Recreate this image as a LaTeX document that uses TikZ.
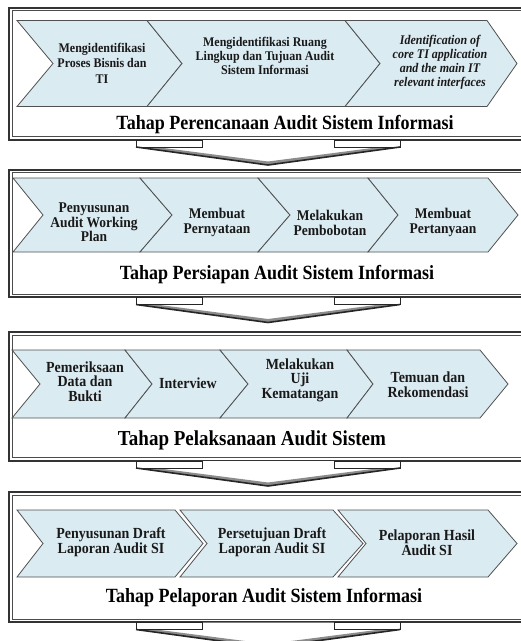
\documentclass[tikz,border=0pt]{standalone}
\usepackage{fontspec}
\setmainfont{Liberation Serif}
\definecolor{chevfill}{RGB}{219,235,242}
\definecolor{chevline}{RGB}{80,80,80}
\tikzset{
  chevshape/.style={fill=chevfill, draw=chevline, line width=0.8pt, line join=miter},
  frameout/.style={draw=black!80, line width=2pt},
  framein/.style={draw=black!70, line width=0.6pt},
  lbl/.style 2 args={align=center, inner sep=0pt, text=black!90, yscale=1.1, transform shape, font=\bfseries\fontsize{#1}{#2}\selectfont},
  ilbl/.style 2 args={align=center, inner sep=0pt, text=black!90, yscale=1.1, transform shape, font=\bfseries\itshape\fontsize{#1}{#2}\selectfont},
  ttl/.style={inner sep=0pt, yscale=1.12, transform shape, font=\bfseries\fontsize{#1}{22}\selectfont},
  arrline/.style={draw=black!85, line width=0.8pt},
  arrdiag/.style={draw=black!85, line width=1.6pt, line join=miter},
  arrshade/.style={fill=black!45},
}
\newcommand\chevpath[6]{\path[chevshape] (#1,#5) -- (#3,#5) -- (#4,{(#5+#6)/2}) -- (#3,#6) -- (#1,#6) -- (#2,{(#5+#6)/2}) -- cycle;}
\newcommand\panelframe[2]{%
  \draw[frameout] (9,#1) rectangle (560,#2);
  \draw[framein] (12.7,{#1+3.2}) rectangle (560,{#2-3.2});}
\newcommand\downarr[1]{%
  \fill[white] (136,#1) -- (400,#1) -- (400,{#1+7}) -- (268,{#1+25}) -- (136,{#1+7}) -- cycle;
  \fill[arrshade] (136,{#1+7}) -- (268,{#1+25}) -- (400,{#1+7}) -- (380,{#1+7}) -- (268,{#1+21.5}) -- (156,{#1+7}) -- cycle;
  \draw[arrline] (202,{#1+7}) -- (202,#1) -- (136,#1) -- (136,{#1+7}) -- cycle;
  \draw[arrline] (334,{#1+7}) -- (334,#1) -- (400,#1) -- (400,{#1+7}) -- cycle;
  \draw[arrdiag] (136,{#1+7}) -- (268,{#1+25}) -- (400,{#1+7});}
\begin{document}
\begin{tikzpicture}[x=1pt,y=-1pt]
\useasboundingbox (0,0) rectangle (521,641);
\clip (0,0) rectangle (521,641);

% ---------- Panel 1
\panelframe{7.5}{139.5}
\chevpath{17}{53}{147}{182}{20.5}{106.5}
\chevpath{147}{182}{345}{380}{20.5}{106.5}
\chevpath{345}{380}{487}{517}{20.5}{106.5}
\node[lbl={12}{14}] (p1a) at (102,63) {Mengidentifikasi\\Proses  Bisnis dan\\TI};
\node[lbl={12}{13}] (p1b) at (265,56) {Mengidentifikasi Ruang\\Lingkup dan Tujuan Audit\\Sistem  Informasi};
\node[ilbl={12}{12.8}] (p1c) at (440,62) {Identification of\\core  TI application\\and the main IT\\relevant interfaces};
\node[ttl=18] (t1) at (285,125) {Tahap Perencanaan Audit Sistem Informasi};
\downarr{140}

% ---------- Panel 2
\panelframe{169.5}{297}
\chevpath{13}{43}{140}{172}{178}{252}
\chevpath{140}{172}{258}{290}{178}{252}
\chevpath{258}{290}{368}{398}{178}{252}
\chevpath{368}{398}{488}{518}{178}{252}
\node[lbl={13.5}{13.3}] (p2a) at (94,222.5) {Penyusunan\\Audit Working\\Plan};
\node[lbl={13.5}{13.6}] (p2b) at (217,222.5) {Membuat\\Pernyataan};
\node[lbl={13.5}{13.6}] (p2c) at (330,222.5) {Melakukan\\Pembobotan};
\node[lbl={13.5}{13.6}] (p2d) at (443,222.5) {Membuat\\Pertanyaan};
\node[ttl=18] (t2) at (277,275) {Tahap Persiapan Audit Sistem Informasi};
\downarr{297.5}

% ---------- Panel 3
\panelframe{331.7}{460.7}
\chevpath{12}{40}{125}{152}{350}{418}
\chevpath{125}{152}{220}{248}{350}{418}
\chevpath{220}{248}{347}{373}{350}{418}
\chevpath{347}{373}{480}{508}{350}{418}
\node[lbl={14}{13.3}] (p3a) at (85,381.5) {Pemeriksaan\\Data dan\\Bukti};
\node[lbl={14}{13.3}] (p3b) at (188,383) {Interview};
\node[lbl={14}{13.3}] (p3c) at (300,380) {Melakukan\\Uji\\Kematangan};
\node[lbl={14}{13.6}] (p3d) at (428,384.5) {Temuan dan\\Rekomendasi};
\node[ttl=19] (t3) at (252,440) {Tahap Pelaksanaan Audit Sistem};
\downarr{461}

% ---------- Panel 4
\panelframe{491.7}{622}
\chevpath{17}{43}{175}{203}{510}{577}
\chevpath{180}{207}{333}{363}{510}{577}
\chevpath{338}{366}{488}{517}{510}{577}
\node[lbl={14}{13.6}] (p4a) at (111,542.5) {Penyusunan Draft\\Laporan  Audit SI};
\node[lbl={14}{13.6}] (p4b) at (272,542.5) {Persetujuan Draft\\Laporan  Audit SI};
\node[lbl={14}{13.6}] (p4c) at (427,542.5) {Pelaporan Hasil\\Audit SI};
\node[ttl=18] (t4) at (264,598) {Tahap Pelaporan Audit Sistem Informasi};
\downarr{622.5}
\end{tikzpicture}
\end{document}
